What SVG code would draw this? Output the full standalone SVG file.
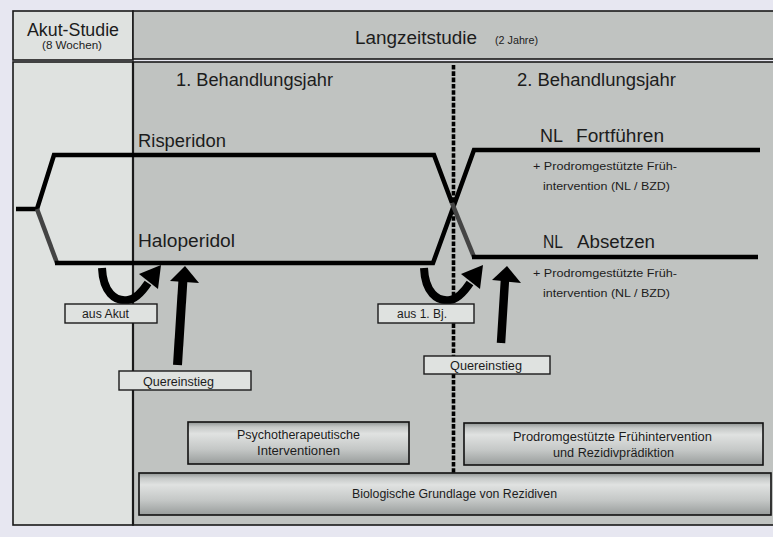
<svg xmlns="http://www.w3.org/2000/svg" width="773" height="537" viewBox="0 0 773 537">
<defs>
<style>
text{font-family:"Liberation Sans",Arial,sans-serif;fill:#1c1c1c}
.big{font-size:17.5px}
.mid{font-size:12.5px}
.sm{font-size:11px}
.tiny{font-size:10px}
.light{fill:#dfe2e0;stroke:#1a1a1a;stroke-width:1.6}
.dark{fill:#c0c3c1;stroke:#1a1a1a;stroke-width:1.6}
.lbl{fill:#dfe2e0;stroke:#1a1a1a;stroke-width:1.4}
.grad{fill:url(#metal);stroke:#111;stroke-width:1.6}
.ln{fill:none;stroke:#000;stroke-width:4.5}
.lng{fill:none;stroke:#444;stroke-width:4.5}
.curve{fill:none;stroke:#000;stroke-width:8}
</style>
<linearGradient id="metal" x1="0" y1="0" x2="0" y2="1">
<stop offset="0" stop-color="#8f9493"/>
<stop offset="0.12" stop-color="#c5c8c7"/>
<stop offset="0.28" stop-color="#e0e2e1"/>
<stop offset="0.65" stop-color="#c4c7c6"/>
<stop offset="1" stop-color="#989c9b"/>
</linearGradient>
</defs>
<rect x="0" y="0" width="773" height="537" fill="#e7e7f1"/>

<g id="frame">
<rect class="light" x="13" y="11" width="120" height="49"/>
<rect class="dark" x="133" y="11" width="642" height="48"/>
<rect class="light" x="13" y="62" width="120" height="463"/>
<rect class="dark" x="133" y="62" width="642" height="463"/>
<line x1="133" y1="62" x2="133" y2="525" stroke="#1a1a1a" stroke-width="2.2"/>
</g>

<g id="header-acute">
<text class="big" x="73" y="36" text-anchor="middle" font-size="16.5" textLength="92" lengthAdjust="spacingAndGlyphs">Akut-Studie</text>
<text class="tiny" x="72" y="49" text-anchor="middle" textLength="60" lengthAdjust="spacingAndGlyphs">(8 Wochen)</text>
</g>
<g id="header-long">
<text class="big" x="355" y="44" font-size="16.5" textLength="122" lengthAdjust="spacingAndGlyphs">Langzeitstudie</text>
<text class="tiny" x="495" y="44" textLength="43" lengthAdjust="spacingAndGlyphs">(2 Jahre)</text>
</g>
<g id="year1"><text class="big" x="176" y="86" textLength="157" lengthAdjust="spacingAndGlyphs">1. Behandlungsjahr</text></g>
<g id="year2"><text class="big" x="517" y="86" textLength="159" lengthAdjust="spacingAndGlyphs">2. Behandlungsjahr</text></g>

<g id="connectors">
<line x1="453.5" y1="65" x2="453.5" y2="474" stroke="#000" stroke-width="3.6" stroke-dasharray="4.6 1.7"/>
<line x1="453.5" y1="478" x2="453.5" y2="481" stroke="#000" stroke-width="1.5"/>
<polyline class="ln" points="16,209 37,209 54,155 434,155 452,203"/>
<line class="lng" x1="37" y1="209" x2="57" y2="263"/>
<polyline class="ln" points="55,263 433,263 474,150 760,150"/>
<polyline class="lng" points="452,203 474,257"/>
<line class="ln" x1="472" y1="257" x2="758" y2="257"/>
<path class="curve" d="M102,268 C103,292 115,302 128,300 C136,299 142,292 148,283"/>
<polygon points="139,274 161,265 158,289" fill="#000"/>
<path class="curve" d="M424,268 C425,292 437,302 450,300 C458,299 464,292 470,283"/>
<polygon points="461,274 483,265 480,289" fill="#000"/>
<line x1="177.5" y1="365" x2="183" y2="279" stroke="#000" stroke-width="9"/>
<polygon points="185,266 170,281 199,283" fill="#000"/>
<line x1="501" y1="343" x2="505" y2="279" stroke="#000" stroke-width="8.5"/>
<polygon points="507,266 492,280 521,283" fill="#000"/>
</g>

<g id="risperidon"><text class="big" x="138" y="147" textLength="88" lengthAdjust="spacingAndGlyphs">Risperidon</text></g>
<g id="haloperidol"><text class="big" x="138" y="247" textLength="97" lengthAdjust="spacingAndGlyphs">Haloperidol</text></g>

<g id="nl-fortfuehren">
<text class="big" x="540" y="142" font-size="18" textLength="23" lengthAdjust="spacingAndGlyphs">NL</text>
<text class="big" x="576" y="142" font-size="18" textLength="88" lengthAdjust="spacingAndGlyphs">Fortführen</text>
<text class="sm" x="533" y="170" textLength="144" lengthAdjust="spacingAndGlyphs">+ Prodromgestützte Früh-</text>
<text class="sm" x="543" y="190" textLength="127" lengthAdjust="spacingAndGlyphs">intervention (NL / BZD)</text>
</g>
<g id="nl-absetzen">
<text class="big" x="543" y="248" font-size="18" textLength="20" lengthAdjust="spacingAndGlyphs">NL</text>
<text class="big" x="577" y="248" font-size="18" textLength="78" lengthAdjust="spacingAndGlyphs">Absetzen</text>
<text class="sm" x="533" y="277" textLength="144" lengthAdjust="spacingAndGlyphs">+ Prodromgestützte Früh-</text>
<text class="sm" x="543" y="297" textLength="127" lengthAdjust="spacingAndGlyphs">intervention (NL / BZD)</text>
</g>

<g id="aus-akut">
<rect class="lbl" x="65" y="304" width="92" height="19"/>
<text class="mid" x="82" y="318" textLength="47" lengthAdjust="spacingAndGlyphs">aus Akut</text>
</g>
<g id="quereinstieg-1">
<rect class="lbl" x="119" y="371" width="132" height="19"/>
<text class="mid" x="143" y="386" textLength="71" lengthAdjust="spacingAndGlyphs">Quereinstieg</text>
</g>
<g id="aus-1bj">
<rect class="lbl" x="378" y="304" width="96" height="19"/>
<text class="mid" x="397" y="318" textLength="50" lengthAdjust="spacingAndGlyphs">aus 1. Bj.</text>
</g>
<g id="quereinstieg-2">
<rect class="lbl" x="424" y="356" width="126" height="18"/>
<text class="mid" x="450" y="370" textLength="72" lengthAdjust="spacingAndGlyphs">Quereinstieg</text>
</g>

<g id="psychotherapie">
<rect class="grad" x="188" y="422" width="221" height="42"/>
<text class="mid" x="298.5" y="439" text-anchor="middle" font-size="12" textLength="123" lengthAdjust="spacingAndGlyphs">Psychotherapeutische</text>
<text class="mid" x="298.5" y="455" text-anchor="middle" font-size="12" textLength="83" lengthAdjust="spacingAndGlyphs">Interventionen</text>
</g>
<g id="prodrom">
<rect class="grad" x="464" y="423" width="299" height="42"/>
<text class="mid" x="612.5" y="441" text-anchor="middle" font-size="12" textLength="199" lengthAdjust="spacingAndGlyphs">Prodromgestützte Frühintervention</text>
<text class="mid" x="613.5" y="457" text-anchor="middle" font-size="12" textLength="121" lengthAdjust="spacingAndGlyphs">und Rezidivprädiktion</text>
</g>
<g id="biologie">
<rect class="grad" x="139" y="473" width="632" height="42"/>
<text class="mid" x="454.5" y="498" text-anchor="middle" font-size="12" textLength="205" lengthAdjust="spacingAndGlyphs">Biologische Grundlage von Rezidiven</text>
</g>
</svg>
